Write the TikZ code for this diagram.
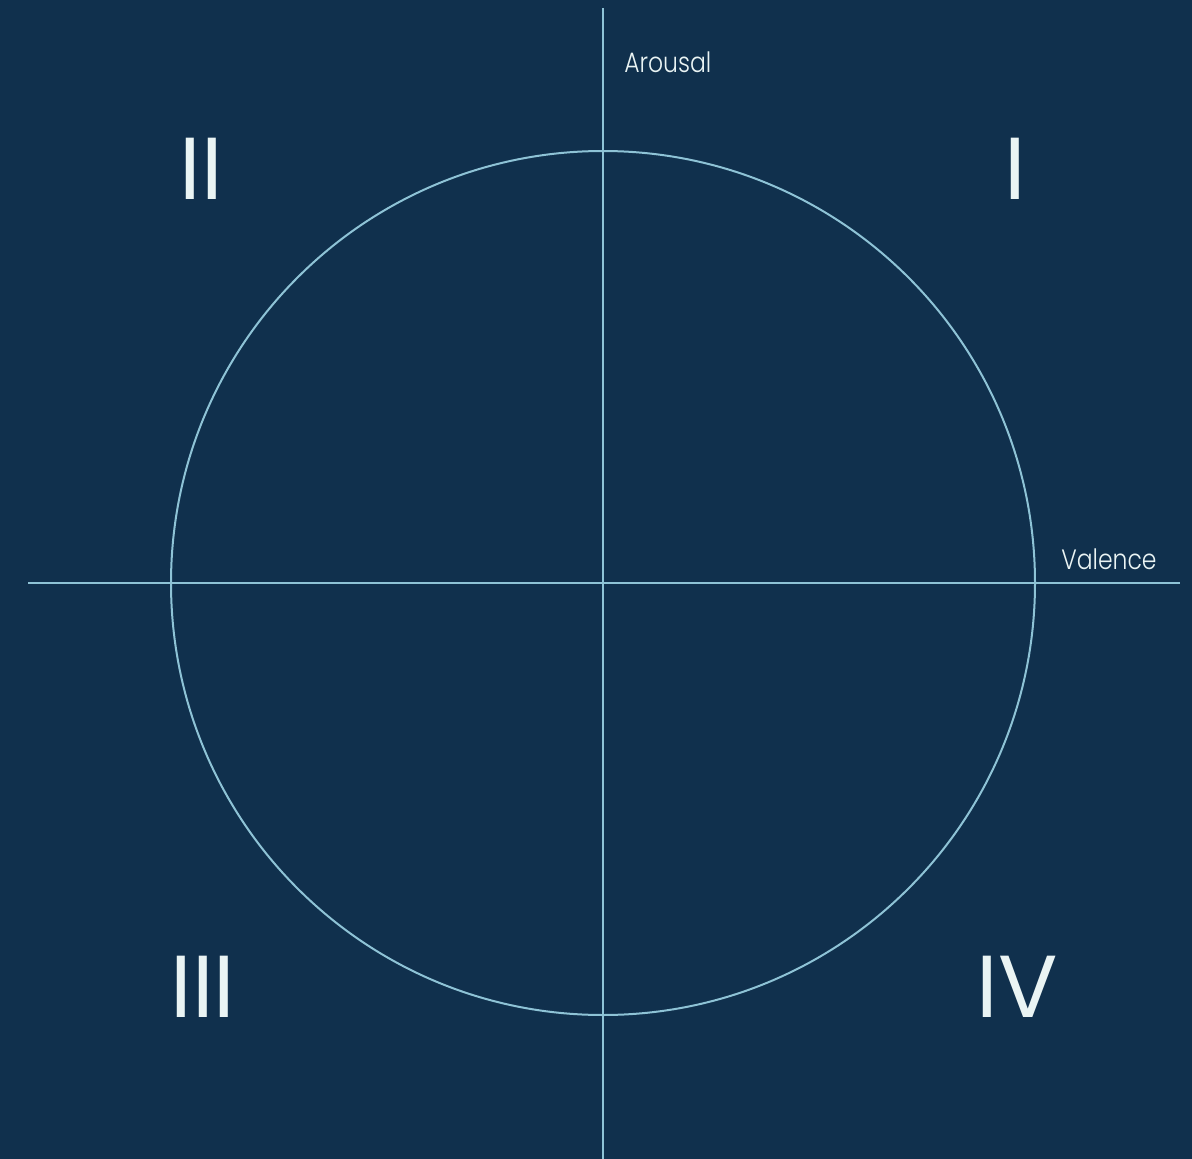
\documentclass[tikz,border=0pt]{standalone}
\usepackage{fontspec}
\setmainfont{Poppins}[UprightFont=* Light]
\newfontfamily\numfont{Poppins}
\definecolor{navy}{HTML}{10304D}
\definecolor{axisblue}{HTML}{8EC3D6}
\definecolor{labelwhite}{HTML}{EAF4F4}
\newcommand{\narrow}[1]{\scalebox{0.84}[1]{#1}}
\begin{document}
\begin{tikzpicture}[
    x=0.75pt, y=-0.75pt,
    axis/.style={draw=axisblue, line width=1.8pt},
    ring/.style={draw=axisblue, line width=1.5pt},
    axislabel/.style={text=labelwhite, font=\fontsize{21}{25}\selectfont, inner sep=0pt, anchor=base west},
    quadrant/.style={text=labelwhite, font=\numfont\fontsize{66}{70}\selectfont, inner sep=0pt}
]

% background (also fixes the margins)
\fill[navy] (0,0) rectangle (1192,1159);
\useasboundingbox (0,0) rectangle (1192,1159);

% axes end points
\coordinate (top) at (603,8);
\coordinate (bottom) at (603,1159);
\coordinate (left) at (28,583);
\coordinate (right) at (1180,583);
\coordinate (origin) at (603,583);

% circle
\draw[ring] (origin) circle[radius=432];

% axes
\draw[axis] (left) -- (right);
\draw[axis] (top) -- (bottom);

% axis labels
\node[axislabel] (arousal) at (624,73) {\narrow{Arousal}};
\node[axislabel] (valence) at (1061,569) {\narrow{Valence}};

% quadrant numbers
\node[quadrant] (q1) at (1015,169) {I};
\node[quadrant] (q2) at (201,169) {II};
\node[quadrant] (q3) at (203,987) {III};
\node[quadrant] (q4) at (1017,987) {IV};

\end{tikzpicture}
\end{document}
